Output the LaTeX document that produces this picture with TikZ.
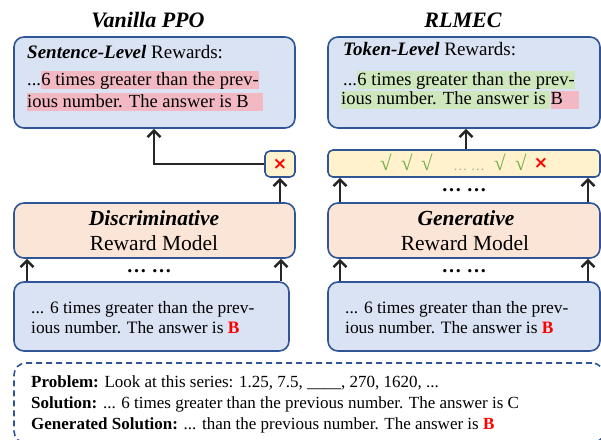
\documentclass[tikz,border=0pt]{standalone}
\usepackage{fontspec}
\setmainfont{Liberation Serif}
\newfontfamily\symfont{DejaVu Sans}
\usetikzlibrary{arrows.meta}

\definecolor{boxblue}{HTML}{2F5597}
\definecolor{fillblue}{HTML}{DAE3F3}
\definecolor{fillorange}{HTML}{FBE5D6}
\definecolor{fillyellow}{HTML}{FFF2CC}
\definecolor{hlpink}{HTML}{F3B9C3}
\definecolor{hlgreen}{HTML}{CFE7BC}
\definecolor{okgreen}{HTML}{70AD47}
\definecolor{dotgray}{HTML}{A6A6A6}
\definecolor{arrowdark}{HTML}{262626}

% fixed trailing gap inside a highlighted run
\newcommand{\padgap}[1]{\rule{#1}{0pt}}

\tikzset{
  panel/.style={draw=boxblue, line width=1.6pt, rounded corners=10pt, inner sep=0pt},
  bluepanel/.style={panel, fill=fillblue},
  rmpanel/.style={panel, fill=fillorange},
  tokpanel/.style={panel, fill=fillyellow, rounded corners=5pt},
  dashpanel/.style={draw=boxblue, line width=1.6pt, dash pattern=on 6pt off 4pt, rounded corners=12pt, inner sep=0pt},
  headtxt/.style={inner sep=0pt, font=\fontsize{19}{21}\selectfont},
  txt/.style={inner sep=0pt, font=\fontsize{18.5}{21}\selectfont},
  intxt/.style={inner sep=0pt, font=\fontsize{17.4}{21}\selectfont},
  hl/.style={inner xsep=0pt, inner ysep=0pt, text height=14pt, text depth=4pt, fill=#1},
  title/.style={inner sep=0pt, font=\fontsize{22}{24}\selectfont\bfseries\itshape},
  rmtxt/.style={inner sep=0pt, font=\fontsize{21.5}{24}\selectfont},
  probtxt/.style={inner sep=0pt, font=\fontsize{17}{19}\selectfont},
  tick/.style={inner sep=0pt, text=okgreen, font=\fontsize{21}{22}\selectfont},
  cross/.style={inner sep=0pt, text=red, font=\symfont\bfseries\fontsize{17}{18}\selectfont},
  dots/.style={inner sep=0pt, font=\fontsize{20}{20}\selectfont\bfseries},
  arr/.style={draw=arrowdark, line width=2.6pt, -{Straight Barb[length=6.5pt,width=13pt]}},
}

\begin{document}
\begin{tikzpicture}[x=1pt,y=-1pt]
\useasboundingbox (0,0) rectangle (601,439);

% column titles
\node[title] (tl) at (148,20) {Vanilla PPO};
\node[title] (tr) at (463,20) {RLMEC};

% ---------- left column: Vanilla PPO ----------
\node[bluepanel, minimum width=281pt, minimum height=91pt] (ltop) at (154.5,82.5) {};
\node[headtxt, anchor=base west] (lrw) at (27,58) {\textbf{\textit{Sentence-Level}} Rewards:};
\node[txt, anchor=base west] (l1a) at (27,85) {...};
\node[txt, hl=hlpink, anchor=base west] (l1b) at (l1a.base east) {6 times greater than the prev-};
\node[txt, hl=hlpink, anchor=base west] (l2) at (27,107) {ious number. The answer is B\padgap{14pt}};

\node[tokpanel, minimum width=30pt, minimum height=26pt] (xbox) at (280,164) {};
\node[cross] (xmark) at (xbox.center) {×};

\node[rmpanel, minimum width=281pt, minimum height=55pt] (ldisc) at (154.5,230.5) {};
\node[rmtxt] (ld1) at (154,218) {\textbf{\textit{Discriminative}}};
\node[rmtxt] (ld2) at (154,243) {Reward Model};

\node[bluepanel, minimum width=275pt, minimum height=69pt] (lin) at (151.5,316.5) {};
\node[intxt, anchor=base west] (li1) at (31,313) {... 6 times greater than the prev-};
\node[intxt, anchor=base west] (li2) at (31,333) {ious number. The answer is \textbf{\color{red}B}};
\node[dots] (ldots) at (149,271) {…\ …};

% ---------- right column: RLMEC ----------
\node[bluepanel, minimum width=272pt, minimum height=91pt] (rtop) at (464,82.5) {};
\node[headtxt, anchor=base west] (rrw) at (343,55) {\textbf{\textit{Token-Level}} Rewards:};
\node[txt, anchor=base west] (r1a) at (343,85) {...};
\node[txt, hl=hlgreen, anchor=base west] (r1b) at (r1a.base east) {6 times greater than the prev-};
\node[txt, hl=hlgreen, anchor=base west] (r2a) at (341,104.5) {ious number. The answer is\padgap{4.6pt}};
\node[txt, hl=hlpink, anchor=base west] (r2b) at (r2a.base east) {B\padgap{16pt}};

\node[tokpanel, minimum width=272pt, minimum height=27pt] (tok) at (464,163.5) {};
\node[tick, anchor=base] (t1) at (386,170.5) {√};
\node[tick, anchor=base] (t2) at (407,170.5) {√};
\node[tick, anchor=base] (t3) at (427,170.5) {√};
\node[inner sep=0pt, text=dotgray, font=\fontsize{14}{15}\selectfont, anchor=base] (tdots) at (469,170) {…\ …};
\node[tick, anchor=base] (t4) at (500,170.5) {√};
\node[tick, anchor=base] (t5) at (521,170.5) {√};
\node[cross] (t6) at (541,163.5) {×};
\node[dots] (mdots) at (464,190) {…\ …};

\node[rmpanel, minimum width=272pt, minimum height=55pt] (rgen) at (464,230.5) {};
\node[rmtxt] (rg1) at (466,218) {\textbf{\textit{Generative}}};
\node[rmtxt] (rg2) at (465,243) {Reward Model};

\node[bluepanel, minimum width=272pt, minimum height=69pt] (rin) at (464,316.5) {};
\node[intxt, anchor=base west] (ri1) at (345,313) {... 6 times greater than the prev-};
\node[intxt, anchor=base west] (ri2) at (345,333) {ious number. The answer is \textbf{\color{red}B}};
\node[dots] (rdots) at (464,271) {…\ …};

% ---------- connectors ----------
\coordinate (cl1) at (27,0);
\coordinate (cl2) at (281,0);
\coordinate (cx) at (280,0);
\coordinate (cup) at (154,0);
\coordinate (cr1) at (340,0);
\coordinate (cr2) at (588,0);
\coordinate (crt) at (466,0);

\draw[arr] (cl1 |- lin.north) -- (cl1 |- ldisc.south);
\draw[arr] (cl2 |- lin.north) -- (cl2 |- ldisc.south);
\draw[arr] (cx |- ldisc.north) -- (cx |- xbox.south);
\draw[arr] (xbox.west) -- (cup |- xbox.west) -- (cup |- ltop.south);

\draw[arr] (cr1 |- rin.north) -- (cr1 |- rgen.south);
\draw[arr] (cr2 |- rin.north) -- (cr2 |- rgen.south);
\draw[arr] (cr1 |- rgen.north) -- (cr1 |- tok.south);
\draw[arr] (cr2 |- rgen.north) -- (cr2 |- tok.south);
\draw[arr] (crt |- tok.north) -- (crt |- rtop.south);

% ---------- problem statement ----------
\node[dashpanel, minimum width=590pt, minimum height=80pt] (prob) at (309,403) {};
\node[probtxt, anchor=base west] (p1) at (31,387) {\textbf{Problem:} Look at this series: 1.25, 7.5, \_\_\_\_, 270, 1620, ...};
\node[probtxt, anchor=base west] (p2) at (31,408) {\textbf{Solution:} ... 6 times greater than the previous number. The answer is C};
\node[probtxt, anchor=base west] (p3) at (31,429) {\textbf{Generated Solution:} ... than the previous number. The answer is \textbf{\color{red}B}};
\end{tikzpicture}
\end{document}
